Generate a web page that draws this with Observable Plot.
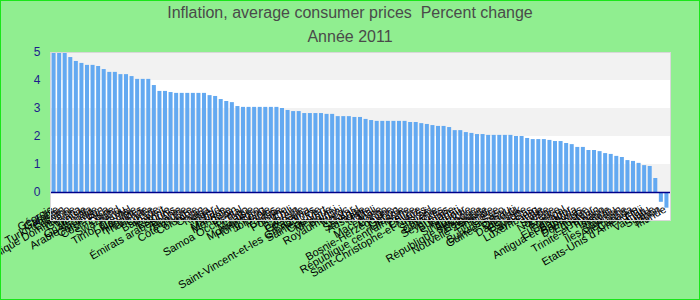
<!DOCTYPE html>
<html>
<head>
<meta charset="utf-8">
<script src="https://cdn.jsdelivr.net/npm/d3@7"></script>
<script src="https://cdn.jsdelivr.net/npm/@observablehq/plot@0.6"></script>
<style>
  body { margin: 0; }
  #wrap { position: relative; width: 700px; height: 300px; background: #90ee90; overflow: hidden;
          font-family: "Liberation Sans", Arial, sans-serif; }
  #wrap svg { position: absolute; left: 0; top: 0; }
  .ttl { position: absolute; left: 0; width: 700px; text-align: center; color: #4a4a4a;
         font-size: 16px; line-height: 16px; white-space: pre; }
  #border { position: absolute; left: 0; top: 0; width: 700px; height: 300px; box-sizing: border-box;
            border: 1px solid #19e619; pointer-events: none; }
</style>
</head>
<body>
<div id="wrap">
  <div class="ttl" style="top:4.5px">Inflation, average consumer prices  Percent change</div>
  <div class="ttl" style="top:28.5px">Année 2011</div>
  <div id="border"></div>
</div>
<script>
const countries = [
  "Géorgie","Gambie","Turkménistan","Lesotho","République Dominicaine","Guyana","Tunisie","Guatemala","Arabie saoudite","Cameroun",
  "Costa Rica","Chine","Swaziland","Pérou","Timor oriental","Namibie","Philippines","Thaïlande","Corée","Barbade",
  "Koweït","Estonie","Émirats arabes unis","Albanie","Hongrie","Côte d'Ivoire","Colombie","Oman","Tonga","Niger",
  "Tchad","Maurice","Mongolie","Bénin","Samoa Occidental","Togo","Malaisie","Monténégro","Hong Kong","Jordanie",
  "Palaos","Croatie","Pologne","Chili","Bahreïn","Grenade","Panama","Saint-Vincent-et-les Grenadines","Sainte-Lucie","Cap-Vert",
  "Mexique","Brunéi","Royaume-Uni","Maroc","Qatar","Sénégal","Australie","Malte","Mali","Macédoine",
  "Congo","Bosnie-Herzégovine","Gabon","Lituanie","République centrafricaine","Belize","Chypre","Saint-Christophe-et-Niévès","Israël","Slovénie",
  "Comores","Seychelles","Bulgarie","Kiribati","Singapour","Autriche","République slovaque","Belgique","Nouvelle-Zélande","Finlande",
  "Grèce","Burkina Faso","Guinée-Bissau","Djibouti","Danemark","Espagne","Pays-Bas","Luxembourg","Italie","Suède",
  "Norvège","France","Portugal","El Salvador","Antigua-et-Barbuda","Bahamas","Dominique","Équateur","Taïwan","Trinité-et-Tobago",
  "Islande","Tuvalu","Îles Salomon","Allemagne","Canada","Etats-Unis d'Amérique","Fidji","Vanuatu","Suisse","Japon",
  "Irlande"
];
const values = [
  5.0, 5.0, 4.97, 4.82, 4.68, 4.61, 4.54, 4.54, 4.5, 4.39,
  4.29, 4.29, 4.21, 4.21, 4.14, 4.04, 4.04, 4.04, 3.82, 3.61,
  3.61, 3.57, 3.54, 3.54, 3.54, 3.54, 3.54, 3.54, 3.46, 3.43,
  3.32, 3.25, 3.21, 3.07, 3.04, 3.04, 3.04, 3.04, 3.04, 3.04,
  3.04, 3.0, 2.93, 2.89, 2.89, 2.82, 2.82, 2.82, 2.82, 2.79,
  2.79, 2.71, 2.71, 2.71, 2.68, 2.68, 2.61, 2.57, 2.54, 2.54,
  2.54, 2.54, 2.54, 2.54, 2.5, 2.5, 2.46, 2.43, 2.39, 2.36,
  2.36, 2.32, 2.21, 2.21, 2.14, 2.11, 2.07, 2.07, 2.04, 2.04,
  2.04, 2.04, 2.04, 2.0, 2.0, 1.93, 1.89, 1.89, 1.89, 1.86,
  1.82, 1.82, 1.75, 1.71, 1.61, 1.61, 1.5, 1.5, 1.46, 1.39,
  1.36, 1.29, 1.25, 1.14, 1.11, 1.04, 0.96, 0.93, 0.5, -0.35,
  -0.56
];
const yTicks = [-1, 0, 1, 2, 3, 4, 5];

const data = countries.map((c, i) => ({country: c, value: values[i]}));
const greyBands = yTicks.slice(0, -1)
  .filter(t => t >= 0 && t % 2 === 0)
  .map(t => ({lo: t, hi: t + 1}));

const chart = Plot.plot({
  width: 700,
  height: 300,
  marginTop: 52,
  marginBottom: 80,
  marginLeft: 50,
  marginRight: 30,
  style: {background: "transparent", fontFamily: "'Liberation Sans', Arial, sans-serif", overflow: "visible"},
  x: {domain: countries, padding: 0.28, axis: null},
  y: {domain: [-1, 5], axis: null},
  marks: [
    Plot.frame({fill: "white", stroke: "none"}),
    Plot.rect(greyBands, {y1: "lo", y2: "hi", fill: "#f2f2f2"}),
    Plot.barY(data, {x: "country", y: "value", fill: "#63a9f1"}),
    Plot.ruleY([0], {stroke: "#00008b", strokeWidth: 1.5}),
    Plot.axisY(yTicks, {tickSize: 0, tickPadding: 10, color: "#1c1c8c", fontSize: 12}),
    Plot.text(data, {x: "country", text: "country", frameAnchor: "bottom", dy: -9, rotate: -30,
                     textAnchor: "end", lineAnchor: "bottom", fontSize: 11, fill: "#000"}),
    Plot.frame({stroke: "#d8d8d8"})
  ]
});
document.getElementById("wrap").insertBefore(chart, document.getElementById("border"));
</script>
</body>
</html>
